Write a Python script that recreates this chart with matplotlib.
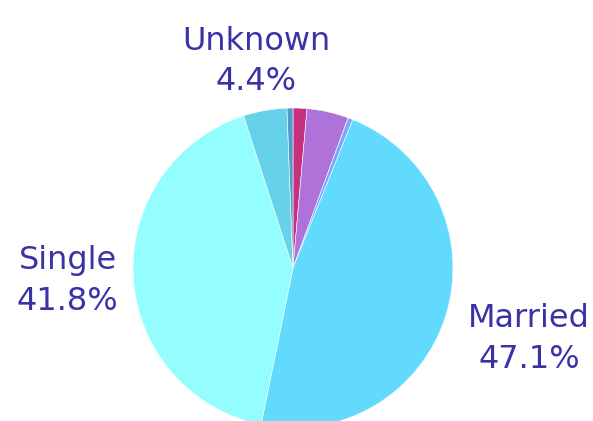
import matplotlib
matplotlib.use("Agg")
import matplotlib.pyplot as plt
import numpy as np

# slices, clockwise from 12 o'clock
categories = ["Widowed", "Divorced", "Separated", "Married", "Single", "Unknown", "Other"]
shares = [1.4, 4.2, 0.5, 47.1, 41.8, 4.4, 0.6]
colors = ["#C7307F", "#AE72D8", "#7FA6FF", "#62DAFD", "#94FEFF", "#66D2EA", "#4E9ACB"]
shown = ["Married", "Single", "Unknown"]
label_dist = {"Married": 1.54, "Single": 1.41, "Unknown": 1.31}

plt.rcParams["font.family"] = ["DejaVu Sans"]
W, H = 593, 421
fig = plt.figure(figsize=(W / 100, H / 100), dpi=100)
cx, cy, r = 293, 268, 160
ax = fig.add_axes([(cx - r) / W, (H - cy - r) / H, 2 * r / W, 2 * r / H])

wedges, _ = ax.pie(shares, colors=colors, startangle=90, counterclock=False,
                   radius=1, wedgeprops=dict(linewidth=0.4, edgecolor="white"))
ax.set_xlim(-1, 1)
ax.set_ylim(-1, 1)
ax.set_aspect("equal")
ax.axis("off")

for w, name, val in zip(wedges, categories, shares):
    if name not in shown:
        continue
    mid = np.deg2rad((w.theta1 + w.theta2) / 2)
    d = label_dist[name]
    ax.text(d * np.cos(mid), d * np.sin(mid), f"{name}\n{val}%",
            ha="center", va="center", fontsize=23, color="#3A33A6",
            linespacing=1.4, clip_on=False)

fig.savefig("out.png", dpi=100)
